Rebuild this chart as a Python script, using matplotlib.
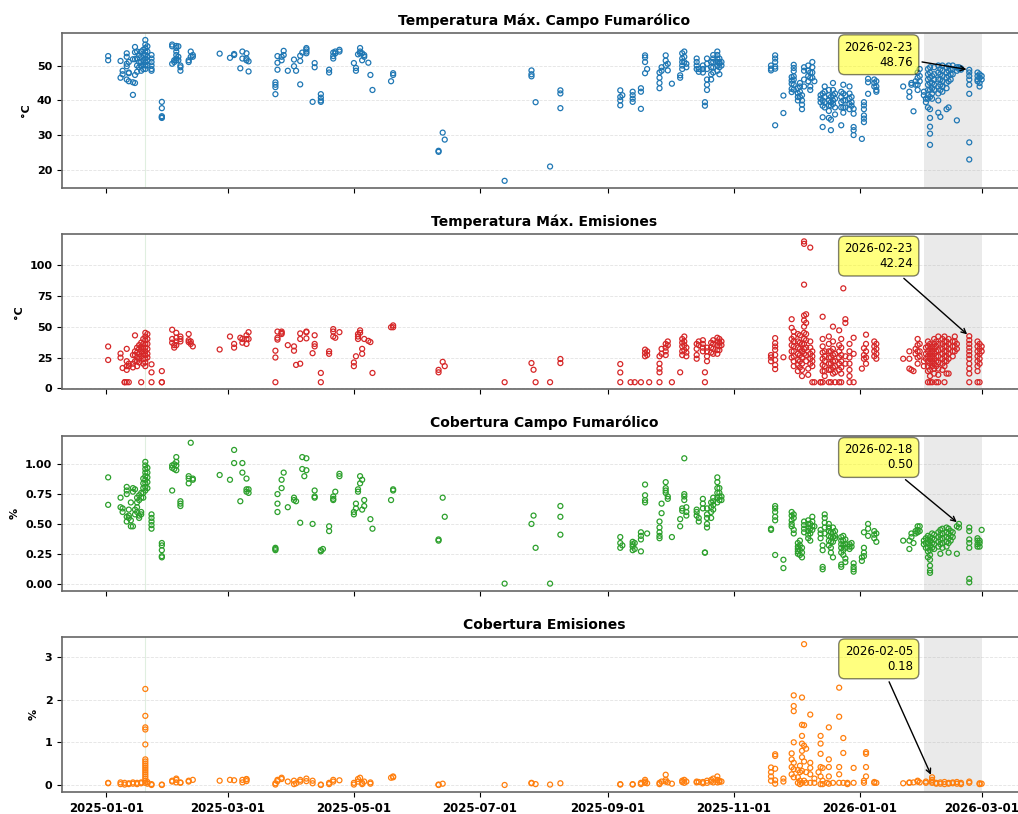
"""
Recreación del panel de series de campo fumarólico / emisiones
"""

import matplotlib
matplotlib.use("Agg")
import matplotlib.pyplot as plt
import matplotlib.dates as mdates
import pandas as pd

# ---------------- datos ----------------
# Temperatura Máx. Campo Fumarólico (°C)
tc_dates = ["2025-01-02", "2025-01-08", "2025-01-09", "2025-01-11", "2025-01-12", "2025-01-14",
            "2025-01-15", "2025-01-16", "2025-01-17", "2025-01-18", "2025-01-19", "2025-01-20",
            "2025-01-21", "2025-01-23", "2025-01-28", "2025-02-02", "2025-02-03", "2025-02-04",
            "2025-02-05", "2025-02-06", "2025-02-10", "2025-02-11", "2025-02-12", "2025-02-25",
            "2025-03-02", "2025-03-04", "2025-03-07", "2025-03-08", "2025-03-10", "2025-03-11",
            "2025-03-24", "2025-03-25", "2025-03-27", "2025-03-28", "2025-03-30", "2025-04-02",
            "2025-04-03", "2025-04-05", "2025-04-06", "2025-04-08", "2025-04-11", "2025-04-12",
            "2025-04-15", "2025-04-19", "2025-04-21", "2025-04-22", "2025-04-24", "2025-05-01",
            "2025-05-02", "2025-05-03", "2025-05-04", "2025-05-05", "2025-05-06", "2025-05-08",
            "2025-05-09", "2025-05-10", "2025-05-19", "2025-05-20", "2025-06-11", "2025-06-13",
            "2025-06-14", "2025-07-13", "2025-07-26", "2025-07-28", "2025-08-04", "2025-08-09",
            "2025-09-07", "2025-09-08", "2025-09-13", "2025-09-17", "2025-09-19", "2025-09-20",
            "2025-09-26", "2025-09-27", "2025-09-29", "2025-09-30", "2025-10-02", "2025-10-06",
            "2025-10-07", "2025-10-08", "2025-10-09", "2025-10-14", "2025-10-15", "2025-10-17",
            "2025-10-18", "2025-10-19", "2025-10-21", "2025-10-22", "2025-10-24", "2025-10-25",
            "2025-10-26", "2025-11-19", "2025-11-21", "2025-11-25", "2025-11-29", "2025-11-30",
            "2025-12-02", "2025-12-03", "2025-12-04", "2025-12-05", "2025-12-07", "2025-12-08",
            "2025-12-09", "2025-12-10", "2025-12-13", "2025-12-14", "2025-12-15", "2025-12-17",
            "2025-12-18", "2025-12-19", "2025-12-20", "2025-12-23", "2025-12-24", "2025-12-25",
            "2025-12-27", "2025-12-28", "2025-12-29", "2026-01-02", "2026-01-03", "2026-01-05",
            "2026-01-08", "2026-01-09", "2026-01-22", "2026-01-25", "2026-01-26", "2026-01-27",
            "2026-01-28", "2026-01-29", "2026-01-30", "2026-02-01", "2026-02-02", "2026-02-03",
            "2026-02-04", "2026-02-05", "2026-02-06", "2026-02-08", "2026-02-09", "2026-02-10",
            "2026-02-12", "2026-02-13", "2026-02-14", "2026-02-15", "2026-02-17", "2026-02-18",
            "2026-02-19", "2026-02-23", "2026-02-27", "2026-02-28", "2026-03-01"]
tc_vals = [[52.7, 51.5], [51.3, 46.5], [48.5, 47.5], [53.5, 52.5, 50.5, 49.8, 46.0],
           [51.0, 48.0, 47.8, 45.5], [51.8, 45.2, 41.6], [55.3, 53.8, 51.8, 47.3, 45.0],
           [54.0, 52.0, 50.0, 48.2], [53.0, 51.0, 49.5], [54.0, 52.5, 51.0, 50.0, 48.5],
           [54.5, 53.0, 51.5, 50.2, 49.0], [57.3, 56.0, 55.0, 54.0, 53.0, 52.0, 51.0, 50.0, 49.0],
           [55.5, 54.0, 52.5, 51.5, 50.0], [53.0, 52.0, 51.0, 50.0, 49.0, 48.5],
           [39.6, 37.8, 35.5, 35.2, 35.0], [56.0, 55.5, 50.5], [51.5, 51.0],
           [55.6, 55.0, 54.0, 53.0, 52.0, 51.5], [55.5, 52.5, 51.5], [50.0, 49.5, 48.5],
           [51.5, 51.0], [54.0, 52.5], [53.0, 52.5], [53.4],
           [52.2], [53.3, 53.0], [49.2], [54.0, 52.0], [53.5, 52.0, 51.5], [51.2, 48.3],
           [45.2, 44.5, 43.8, 41.8], [52.7, 50.8, 48.8], [52.5, 51.5], [54.2, 53.0], [48.5],
           [51.7, 49.8], [48.5], [52.8, 51.3, 44.6], [53.7], [55.0, 54.6, 54.0, 53.5], [39.6],
           [50.7, 49.5], [41.8, 40.8, 40.0, 39.6], [48.8, 48.0], [53.7, 52.7, 52.0], [54.0, 53.5],
           [54.5, 54.0], [50.7], [49.3, 48.5], [53.2], [55.0, 54.0, 53.5], [53.5, 51.5],
           [53.0, 52.5], [50.8], [47.3], [43.0], [45.5], [47.8, 47.3], [25.6, 25.3], [30.8],
           [28.8], [17.0], [48.6, 47.5, 46.9], [39.5], [21.1], [42.9, 42.0, 37.8],
           [42.9, 41.0, 40.0, 38.6], [41.5], [42.5, 41.5, 40.5, 39.6], [43.5, 42.5, 37.6],
           [52.9, 52.3, 51.0, 47.8], [49.0], [48.0, 46.5, 45.0, 43.5], [49.5, 48.5],
           [52.9, 51.4, 50.0], [50.5, 48.6], [44.8], [47.2, 46.5],
           [53.5, 52.0, 51.0, 50.0, 49.0], [54.0, 52.5, 51.0], [50.5, 49.5],
           [52.0, 51.0, 50.0, 49.0], [49.0, 48.2], [50.0, 49.0, 48.0], [39.5, 38.5],
           [52.0, 50.5, 49.0, 46.0, 44.5, 43.0], [51.0, 49.5, 47.5, 46.0],
           [53.0, 52.0, 51.0, 49.5, 48.0], [54.0, 53.0, 52.0, 51.0, 50.0, 48.5],
           [52.0, 51.0, 50.5, 49.5, 47.5], [51.0, 50.0], [50.0, 49.1, 48.6],
           [52.9, 52.0, 51.0, 49.7, 49.1, 32.9], [41.4, 36.4], [46.7, 45.7, 44.8, 43.3, 42.4],
           [50.2, 49.3, 48.4, 46.9, 46.0, 44.5, 43.1], [43.5, 42.0, 41.0, 40.0],
           [45.0, 44.0, 42.5, 41.0], [41.5, 40.0, 38.8, 37.5], [49.5, 48.5, 46.0, 44.0],
           [50.0, 48.5, 47.0, 45.5], [48.0, 46.5, 44.0, 43.0], [51.0, 49.5, 48.0, 46.5],
           [45.5], [41.5, 40.5, 39.5], [42.0, 40.0, 38.5, 35.2, 32.4],
           [44.0, 42.5, 41.0, 39.5, 38.0], [43.0, 41.5, 40.0, 38.5, 37.0, 35.0],
           [41.0, 39.5, 38.5, 34.5, 31.5], [45.0, 43.0, 41.5, 40.0, 39.0],
           [42.0, 40.5, 38.0, 36.0], [42.5, 41.0, 39.5, 38.0, 32.9],
           [44.5, 42.0, 40.0, 38.0, 36.5], [41.5, 40.0, 38.0], [44.0, 42.0, 40.5, 39.0, 37.5],
           [41.0, 39.5, 38.5], [37.6, 36.2, 32.4, 31.5, 30.1], [29.0],
           [39.5, 38.6, 37.5, 35.7, 34.8, 33.8], [46.2, 45.2, 41.9], [46.0, 45.0, 44.0],
           [45.5, 44.0, 43.0, 42.5], [44.0], [42.5, 41.0], [45.0, 44.5], [36.9], [45.5, 44.5],
           [48.0, 46.5, 44.5, 43.0], [49.0, 47.0, 45.5], [42.5, 41.5], [40.5, 39.5],
           [49.0, 47.5, 46.0, 44.5, 43.0, 41.5, 40.5, 38.0],
           [49.5, 48.0, 46.5, 45.0, 43.0, 41.0, 37.5, 35.0, 32.5, 30.5, 27.3],
           [47.0, 45.0, 43.5, 42.0, 40.5], [49.5, 47.5, 46.0, 44.5, 43.0],
           [50.0, 48.0, 46.0, 44.0, 42.0, 40.0, 36.5], [49.0, 47.5, 46.0, 44.5, 43.0, 35.3],
           [50.0, 48.5, 47.0, 45.5, 44.0, 42.5], [49.5, 48.0, 46.5, 45.0, 43.5, 37.5],
           [50.0, 48.5, 47.0, 45.5, 38.0], [49.0, 47.5, 46.0], [50.0, 49.0, 47.5],
           [49.5, 48.5, 34.3], [49.5, 49.0], [49.2, 48.8],
           [48.76, 48.0, 47.0, 46.0, 44.5, 41.9, 28.0, 23.1], [48.0, 47.0, 46.0, 45.5],
           [47.5, 46.5, 45.0, 44.0], [47.0, 46.0]]

# Temperatura Máx. Emisiones (°C)
te_dates = ["2025-01-02", "2025-01-08", "2025-01-09", "2025-01-10", "2025-01-11", "2025-01-12",
            "2025-01-14", "2025-01-15", "2025-01-16", "2025-01-17", "2025-01-18", "2025-01-19",
            "2025-01-20", "2025-01-21", "2025-01-23", "2025-01-28", "2025-02-02", "2025-02-03",
            "2025-02-04", "2025-02-06", "2025-02-10", "2025-02-11", "2025-02-12", "2025-02-25",
            "2025-03-02", "2025-03-04", "2025-03-07", "2025-03-08", "2025-03-10", "2025-03-11",
            "2025-03-24", "2025-03-25", "2025-03-27", "2025-03-30", "2025-04-02", "2025-04-03",
            "2025-04-05", "2025-04-08", "2025-04-11", "2025-04-12", "2025-04-15", "2025-04-19",
            "2025-04-21", "2025-04-22", "2025-04-24", "2025-05-01", "2025-05-02", "2025-05-03",
            "2025-05-04", "2025-05-05", "2025-05-06", "2025-05-08", "2025-05-09", "2025-05-10",
            "2025-05-19", "2025-05-20", "2025-06-11", "2025-06-13", "2025-06-14", "2025-07-13",
            "2025-07-26", "2025-07-27", "2025-07-28", "2025-08-04", "2025-08-09", "2025-09-07",
            "2025-09-12", "2025-09-14", "2025-09-17", "2025-09-19", "2025-09-20", "2025-09-21",
            "2025-09-26", "2025-09-27", "2025-09-29", "2025-09-30", "2025-10-02", "2025-10-06",
            "2025-10-07", "2025-10-08", "2025-10-09", "2025-10-14", "2025-10-15", "2025-10-17",
            "2025-10-18", "2025-10-19", "2025-10-21", "2025-10-22", "2025-10-24", "2025-10-25",
            "2025-10-26", "2025-11-19", "2025-11-21", "2025-11-25", "2025-11-29", "2025-11-30",
            "2025-12-02", "2025-12-03", "2025-12-04", "2025-12-05", "2025-12-06", "2025-12-07",
            "2025-12-08", "2025-12-09", "2025-12-10", "2025-12-13", "2025-12-14", "2025-12-15",
            "2025-12-17", "2025-12-18", "2025-12-19", "2025-12-20", "2025-12-22", "2025-12-23",
            "2025-12-24", "2025-12-25", "2025-12-27", "2025-12-29", "2026-01-02", "2026-01-03",
            "2026-01-04", "2026-01-08", "2026-01-09", "2026-01-22", "2026-01-25", "2026-01-26",
            "2026-01-27", "2026-01-28", "2026-01-29", "2026-01-30", "2026-02-01", "2026-02-02",
            "2026-02-03", "2026-02-04", "2026-02-05", "2026-02-06", "2026-02-07", "2026-02-08",
            "2026-02-10", "2026-02-11", "2026-02-12", "2026-02-13", "2026-02-15", "2026-02-16",
            "2026-02-17", "2026-02-23", "2026-02-27", "2026-02-28", "2026-03-01"]
te_vals = [[33.9, 23.0], [28.2, 24.9], [16.5], [5, 5], [32.0, 22.0, 18.0, 15.0, 5],
           [20.0, 18.0, 5], [27.0, 20.0, 17.0], [42.9, 30.0, 27.0, 22.0],
           [33.0, 29.0, 25.0, 22.0, 18.0], [35.0, 32.0, 28.0, 24.0, 21.0],
           [37.0, 33.0, 30.0, 26.0, 5], [40.0, 36.0, 32.0, 28.0, 24.0, 20.0],
           [45.0, 42.0, 39.0, 36.0, 33.0, 30.0, 27.0, 24.0, 21.0, 18.0],
           [44.0, 40.0, 36.0, 32.0, 28.0, 25.0], [19.5, 13.0, 5], [14.0, 5, 5],
           [47.5, 40.0, 37.0], [35.0, 33.0], [45.0, 41.0, 38.0, 35.0], [42.0, 40.0, 38.0],
           [44.0, 39.0, 37.5], [38.0, 36.0], [34.0], [31.5], [42.0], [36.0, 33.0], [41.0],
           [40.0, 37.0], [43.0, 40.0, 36.0], [45.5, 40.0], [30.5, 25.0, 5], [46.0, 41.0, 39.5],
           [46.0, 45.0, 44.0], [35.0], [34.0, 30.5], [19.0], [44.5, 40.0, 20.0],
           [46.0, 45.5, 40.5], [28.5], [43.0, 36.0, 34.0], [12.5, 5], [30.0, 28.0],
           [48.0, 46.0, 42.0], [41.0], [45.5], [21.0, 18.0], [26.0], [44.0, 42.0, 40.0],
           [47.0, 45.0], [32.0, 28.0], [40.0], [38.5], [37.5], [12.5], [49.5], [51.0, 49.5],
           [15.0, 13.0], [21.5], [18.0], [5], [20.5], [15.1], [5], [5], [23.8, 20.5],
           [19.7, 12.9, 5], [5], [5], [5], [31.4, 28.7, 26.0], [30.0, 27.0], [5],
           [26.0, 20.0, 16.0, 13.0, 5], [32.0, 28.0], [36.0, 33.0, 30.0, 27.0], [38.0, 35.0],
           [5], [13.0], [40.0, 37.0, 34.0, 30.0, 27.0], [42.0, 38.0, 35.0, 31.0],
           [33.0, 29.0, 26.0], [36.0, 32.0, 27.0, 24.0], [38.0, 35.0], [39.0, 36.0, 33.0, 30.0],
           [13.0, 5], [33.0, 30.0, 26.0, 22.0], [37.0, 33.0, 29.0], [39.0, 36.0, 32.0, 28.0],
           [41.0, 38.0, 35.0, 31.0, 28.0], [40.0, 37.0, 34.0, 31.0], [38.0, 35.0],
           [27.0, 25.0, 22.0], [40.7, 36.6, 33.9, 31.2, 27.1, 23.0, 18.9, 15.6], [25.2],
           [56.0, 49.0, 40.0, 35.0, 30.0, 25.0], [46.0, 42.0, 38.0, 34.0, 30.0, 26.0, 22.0, 18.0],
           [44.0, 38.0, 33.0, 28.0, 23.0, 19.0, 14.0], [43.0, 37.0, 32.0, 27.0, 22.0, 17.0],
           [36.0, 30.0, 25.0, 20.0, 15.0, 10.0],
           [119.0, 117.0, 84.0, 59.0, 55.0, 50.0, 45.0, 40.0, 36.0, 32.0, 28.0],
           [60.0, 53.0, 44.0, 39.0, 33.0, 27.0, 22.0], [16.0, 11.0],
           [114.0, 38.0, 33.0, 28.0, 24.0, 20.0], [30.0, 26.0, 22.0, 18.0, 5], [5], [5, 5],
           [58.0, 40.0, 34.0, 29.0, 24.0, 19.0, 14.0, 5], [30.0, 26.0, 22.0, 18.0, 14.0, 10.0],
           [42.0, 36.0, 30.0, 25.0, 20.0, 15.0, 5], [30.0, 25.0, 20.0, 15.0, 5],
           [50.0, 38.0, 32.0, 27.0, 22.0, 17.0, 12.0], [28.0, 22.0, 18.0, 13.0, 5],
           [47.0, 35.0, 30.0, 25.0, 20.0, 15.0, 5], [40.0, 33.0, 27.0, 22.0, 17.0, 12.0, 5],
           [81.0], [56.0, 53.0, 26.0, 20.0], [36.0, 30.0, 25.0, 20.0, 15.0, 10.0, 5],
           [41.0, 28.0, 5], [16.0], [32.5, 27.0, 24.0], [43.5, 36.0, 30.0, 25.0, 20.0],
           [38.0, 34.0, 30.0, 26.0], [36.0, 32.0, 28.0, 24.0], [24.0], [30.0, 24.0, 16.0],
           [15.0], [14.0], [32.0, 28.0], [40.0, 35.0, 30.0, 25.0, 20.0], [36.0, 30.0, 26.0],
           [22.0, 18.0], [33.0, 28.0, 24.0], [38.0, 34.0, 30.0, 26.0, 22.0, 18.0, 14.0, 5],
           [36.0, 32.0, 28.0, 24.0, 20.0, 15.0, 10.0, 5], [34.0, 30.0, 26.0, 22.0, 18.0, 5],
           [40.0, 36.0, 32.0, 28.0, 24.0, 20.0, 16.0, 12.0], [38.0, 34.0, 30.0, 26.0, 22.0, 18.0, 5],
           [42.0, 36.0, 31.0, 26.0, 21.0, 16.0, 11.0, 5], [40.0, 36.0, 32.0, 28.0, 24.0, 20.0, 15.0],
           [42.0, 38.0, 34.0, 30.0, 26.0, 22.0, 18.0, 5], [38.0, 34.0, 30.0, 26.0, 22.0, 12.0],
           [40.0, 36.0, 32.0, 28.0, 24.0, 12.0], [38.0, 34.0, 30.0, 26.0], [42.0, 38.0, 34.0, 30.0],
           [36.0, 32.0], [42.24, 39.0, 36.0, 33.0, 30.0, 27.0, 24.0, 20.0, 16.0, 12.0, 5],
           [38.0, 34.0, 30.0, 26.0, 22.0, 18.0, 14.0, 5], [36.0, 32.0, 28.0, 24.0, 20.0, 5],
           [34.0, 30.0]]

# Cobertura Campo Fumarólico (%)
cc_dates = ["2025-01-02", "2025-01-08", "2025-01-09", "2025-01-11", "2025-01-12", "2025-01-13",
            "2025-01-14", "2025-01-15", "2025-01-16", "2025-01-17", "2025-01-18", "2025-01-19",
            "2025-01-20", "2025-01-21", "2025-01-23", "2025-01-28", "2025-02-02", "2025-02-03",
            "2025-02-04", "2025-02-06", "2025-02-10", "2025-02-11", "2025-02-12", "2025-02-25",
            "2025-03-02", "2025-03-04", "2025-03-07", "2025-03-08", "2025-03-10", "2025-03-11",
            "2025-03-24", "2025-03-25", "2025-03-27", "2025-03-28", "2025-03-30", "2025-04-02",
            "2025-04-03", "2025-04-05", "2025-04-06", "2025-04-07", "2025-04-08", "2025-04-11",
            "2025-04-12", "2025-04-15", "2025-04-16", "2025-04-19", "2025-04-21", "2025-04-22",
            "2025-04-24", "2025-05-01", "2025-05-02", "2025-05-03", "2025-05-04", "2025-05-05",
            "2025-05-06", "2025-05-09", "2025-05-10", "2025-05-19", "2025-05-20", "2025-06-11",
            "2025-06-13", "2025-06-14", "2025-07-13", "2025-07-26", "2025-07-27", "2025-07-28",
            "2025-08-04", "2025-08-09", "2025-09-07", "2025-09-08", "2025-09-13", "2025-09-14",
            "2025-09-17", "2025-09-19", "2025-09-20", "2025-09-26", "2025-09-27", "2025-09-29",
            "2025-09-30", "2025-10-02", "2025-10-06", "2025-10-07", "2025-10-08", "2025-10-09",
            "2025-10-14", "2025-10-15", "2025-10-17", "2025-10-18", "2025-10-19", "2025-10-21",
            "2025-10-22", "2025-10-24", "2025-10-25", "2025-10-26", "2025-11-19", "2025-11-21",
            "2025-11-25", "2025-11-29", "2025-11-30", "2025-12-02", "2025-12-03", "2025-12-04",
            "2025-12-05", "2025-12-07", "2025-12-08", "2025-12-09", "2025-12-10", "2025-12-13",
            "2025-12-14", "2025-12-15", "2025-12-17", "2025-12-18", "2025-12-19", "2025-12-20",
            "2025-12-23", "2025-12-24", "2025-12-25", "2025-12-27", "2025-12-28", "2025-12-29",
            "2026-01-02", "2026-01-03", "2026-01-05", "2026-01-08", "2026-01-09", "2026-01-22",
            "2026-01-25", "2026-01-26", "2026-01-27", "2026-01-28", "2026-01-29", "2026-01-30",
            "2026-02-01", "2026-02-02", "2026-02-03", "2026-02-04", "2026-02-05", "2026-02-06",
            "2026-02-08", "2026-02-09", "2026-02-10", "2026-02-12", "2026-02-13", "2026-02-14",
            "2026-02-15", "2026-02-17", "2026-02-18", "2026-02-23", "2026-02-27", "2026-02-28",
            "2026-03-01"]
cc_vals = [[0.89, 0.66], [0.72, 0.64], [0.63, 0.60], [0.81, 0.78, 0.75, 0.56, 0.52],
           [0.62, 0.57, 0.55], [0.68, 0.53, 0.48], [0.80, 0.77, 0.48], [0.79, 0.62, 0.58],
           [0.72, 0.68, 0.64, 0.60], [0.74, 0.70, 0.57, 0.55], [0.76, 0.72, 0.60, 0.58],
           [0.88, 0.84, 0.80, 0.76, 0.72],
           [1.02, 0.99, 0.96, 0.93, 0.90, 0.87, 0.84, 0.81, 0.78],
           [0.97, 0.93, 0.89, 0.85, 0.80], [0.58, 0.55, 0.52, 0.49, 0.46],
           [0.34, 0.32, 0.28, 0.23, 0.22], [0.99, 0.97, 0.78], [1.00, 0.96],
           [1.06, 1.02, 0.99, 0.95], [0.69, 0.67, 0.65], [0.90, 0.88, 0.84], [1.18],
           [0.88, 0.87], [0.91], [0.87], [1.12, 1.01], [0.69], [1.01, 0.93], [0.88, 0.79, 0.77],
           [0.79, 0.76], [0.30, 0.29, 0.28], [0.75, 0.67, 0.60], [0.87, 0.80], [0.93], [0.64],
           [0.72, 0.70], [0.69], [0.51], [1.06, 0.96], [0.90], [1.05, 0.95], [0.50],
           [0.78, 0.73, 0.72], [0.28, 0.27], [0.29], [0.48, 0.44], [0.73, 0.71, 0.70], [0.77],
           [0.92, 0.90], [0.60, 0.58], [0.67, 0.63], [0.79, 0.77], [0.90, 0.84], [0.87, 0.62],
           [0.70, 0.65], [0.54], [0.46], [0.70], [0.79, 0.78], [0.37, 0.36], [0.72], [0.56],
           [0.00], [0.50], [0.57], [0.30], [0.00], [0.65, 0.56, 0.41], [0.39, 0.34, 0.30],
           [0.32], [0.35, 0.33, 0.31, 0.28], [0.34, 0.29], [0.43, 0.40, 0.37, 0.27],
           [0.83, 0.74, 0.70, 0.68], [0.42], [0.52, 0.47, 0.43, 0.40, 0.38], [0.67, 0.59],
           [0.85, 0.80, 0.78, 0.76], [0.73, 0.71], [0.39], [0.54, 0.48], [0.63, 0.61],
           [1.05, 0.75, 0.73, 0.70], [0.64, 0.60, 0.57], [0.62, 0.60, 0.57], [0.55, 0.52],
           [0.71, 0.67, 0.63], [0.26, 0.26], [0.63, 0.58, 0.55, 0.50, 0.47],
           [0.68, 0.64, 0.60, 0.55], [0.72, 0.69, 0.66, 0.62],
           [0.89, 0.85, 0.80, 0.76, 0.72, 0.68], [0.80, 0.76, 0.73, 0.70], [0.73, 0.70],
           [0.46, 0.45], [0.65, 0.63, 0.60, 0.56, 0.53, 0.24], [0.20, 0.13],
           [0.60, 0.57, 0.53, 0.50, 0.48], [0.58, 0.55, 0.45, 0.42],
           [0.34, 0.31, 0.29, 0.27, 0.25], [0.36, 0.32, 0.28, 0.24], [0.30, 0.26, 0.22],
           [0.52, 0.49, 0.46, 0.43], [0.53, 0.50, 0.47, 0.44, 0.41, 0.38],
           [0.50, 0.46, 0.42, 0.36], [0.56, 0.52, 0.48, 0.45], [0.48], [0.45, 0.42, 0.38],
           [0.32, 0.28, 0.14, 0.12], [0.58, 0.55, 0.51, 0.47, 0.42],
           [0.50, 0.47, 0.44, 0.40, 0.36, 0.32], [0.43, 0.39, 0.35, 0.30, 0.26],
           [0.47, 0.43, 0.39, 0.35, 0.22], [0.44, 0.40, 0.38],
           [0.39, 0.36, 0.33, 0.30, 0.26, 0.16, 0.14], [0.40, 0.36, 0.32, 0.28, 0.24],
           [0.37, 0.33, 0.30, 0.21, 0.18], [0.33, 0.31, 0.29], [0.34, 0.31],
           [0.17, 0.14, 0.12, 0.10], [0.22, 0.19], [0.43, 0.30, 0.26, 0.23], [0.50, 0.46, 0.40],
           [0.44, 0.41, 0.38], [0.42, 0.35], [0.36], [0.36, 0.29], [0.42, 0.39], [0.34],
           [0.44, 0.42], [0.48, 0.45, 0.43], [0.48, 0.44], [0.36, 0.33], [0.38, 0.34, 0.30],
           [0.40, 0.37, 0.34, 0.30, 0.27, 0.22],
           [0.39, 0.36, 0.32, 0.28, 0.24, 0.20, 0.15, 0.11, 0.09], [0.42, 0.38, 0.34, 0.30],
           [0.41, 0.37, 0.33, 0.29], [0.43, 0.39, 0.35, 0.31], [0.45, 0.41, 0.37, 0.33, 0.25],
           [0.46, 0.42, 0.38, 0.34, 0.30], [0.47, 0.43, 0.39, 0.35, 0.31],
           [0.46, 0.42, 0.38, 0.34, 0.26], [0.44, 0.40, 0.36], [0.43, 0.39], [0.48, 0.25],
           [0.50, 0.47], [0.47, 0.44, 0.37, 0.34, 0.30, 0.04, 0.01], [0.38, 0.36, 0.33, 0.31],
           [0.36, 0.34, 0.31], [0.45]]

# Cobertura Emisiones (%)
ce_dates = ["2025-01-02", "2025-01-08", "2025-01-10", "2025-01-12", "2025-01-14", "2025-01-16",
            "2025-01-18", "2025-01-20", "2025-01-21", "2025-01-23", "2025-01-28", "2025-02-02",
            "2025-02-04", "2025-02-06", "2025-02-10", "2025-02-12", "2025-02-25", "2025-03-02",
            "2025-03-04", "2025-03-08", "2025-03-10", "2025-03-24", "2025-03-25", "2025-03-27",
            "2025-03-30", "2025-04-02", "2025-04-03", "2025-04-05", "2025-04-08", "2025-04-11",
            "2025-04-15", "2025-04-19", "2025-04-21", "2025-04-24", "2025-05-01", "2025-05-03",
            "2025-05-04", "2025-05-05", "2025-05-06", "2025-05-09", "2025-05-19", "2025-05-20",
            "2025-06-11", "2025-06-13", "2025-07-13", "2025-07-26", "2025-07-28", "2025-08-04",
            "2025-08-09", "2025-09-07", "2025-09-13", "2025-09-17", "2025-09-19", "2025-09-20",
            "2025-09-26", "2025-09-27", "2025-09-29", "2025-09-30", "2025-10-02", "2025-10-07",
            "2025-10-08", "2025-10-09", "2025-10-14", "2025-10-15", "2025-10-17", "2025-10-19",
            "2025-10-21", "2025-10-22", "2025-10-24", "2025-10-25", "2025-10-26", "2025-11-19",
            "2025-11-21", "2025-11-25", "2025-11-29", "2025-11-30", "2025-12-02", "2025-12-03",
            "2025-12-04", "2025-12-05", "2025-12-06", "2025-12-08", "2025-12-10", "2025-12-12",
            "2025-12-13", "2025-12-14", "2025-12-16", "2025-12-17", "2025-12-19", "2025-12-22",
            "2025-12-24", "2025-12-26", "2025-12-29", "2026-01-03", "2026-01-04", "2026-01-08",
            "2026-01-09", "2026-01-22", "2026-01-25", "2026-01-27", "2026-01-29", "2026-01-30",
            "2026-02-02", "2026-02-05", "2026-02-07", "2026-02-09", "2026-02-11", "2026-02-13",
            "2026-02-15", "2026-02-17", "2026-02-19", "2026-02-23", "2026-02-28", "2026-03-01"]
ce_vals = [[0.05, 0.04], [0.06, 0.02], [0.05, 0.01], [0.04, 0.02], [0.06, 0.03],
           [0.05, 0.02], [0.06, 0.04],
           [2.25, 1.62, 1.35, 1.30, 0.95, 0.60, 0.55, 0.50, 0.45, 0.40, 0.35, 0.30, 0.25,
            0.20, 0.15, 0.10, 0.05],
           [0.07, 0.03], [0.02, 0.00], [0.00, 0.01], [0.10, 0.08], [0.15, 0.12, 0.06],
           [0.06, 0.05], [0.10, 0.08], [0.12], [0.10], [0.12], [0.11], [0.06, 0.12],
           [0.09, 0.14, 0.13], [0.01, 0.04], [0.09, 0.12], [0.17, 0.14], [0.08], [0.10, 0.02],
           [0.04], [0.08, 0.12], [0.15, 0.09], [0.04, 0.10], [0.00, 0.01], [0.05, 0.02],
           [0.12, 0.08], [0.11], [0.01, 0.05], [0.14, 0.08], [0.17], [0.05, 0.02], [0.08],
           [0.06, 0.03], [0.17], [0.20, 0.18], [0.00, 0.01], [0.03], [0.00], [0.05, 0.04],
           [0.02], [0.01], [0.04], [0.01, 0.02], [0.02, 0.01], [0.02, 0.05],
           [0.12, 0.08, 0.05], [0.04], [0.05, 0.02], [0.08], [0.24, 0.12, 0.08], [0.06],
           [0.03], [0.10, 0.07], [0.12, 0.05], [0.08], [0.08, 0.06], [0.07], [0.07, 0.04],
           [0.10, 0.05], [0.12, 0.08], [0.15, 0.06], [0.20, 0.12, 0.06], [0.10, 0.07], [0.08],
           [0.41, 0.30, 0.20, 0.10], [0.72, 0.68, 0.38, 0.11, 0.03], [0.15, 0.08],
           [0.74, 0.60, 0.42, 0.25], [2.10, 1.85, 1.73, 1.00, 0.52, 0.37, 0.18],
           [0.35, 0.18, 0.05], [0.45, 0.30, 0.10, 0.02],
           [2.05, 1.41, 1.15, 0.97, 0.80, 0.65, 0.33, 0.05], [3.30, 1.40, 0.92, 0.55, 0.10],
           [0.85, 0.30, 0.05], [1.65, 0.52, 0.40, 0.25, 0.05], [0.15, 0.05], [0.30],
           [1.15, 0.97, 0.73, 0.42, 0.20, 0.02], [0.40, 0.10, 0.02], [0.05],
           [1.35, 0.60, 0.42, 0.20, 0.03], [0.05], [2.28, 1.60, 0.42, 0.25, 0.05],
           [1.10, 0.75, 0.05], [0.05, 0.02], [0.40, 0.05], [0.10, 0.05],
           [0.77, 0.73, 0.42, 0.20], [0.07, 0.05], [0.05], [0.04], [0.06, 0.05], [0.06],
           [0.10, 0.08], [0.06], [0.08, 0.05], [0.18, 0.12, 0.08, 0.05], [0.05, 0.03],
           [0.06, 0.03], [0.07, 0.02], [0.05, 0.03], [0.06, 0.04], [0.07, 0.03], [0.05, 0.02],
           [0.08, 0.05], [0.04, 0.02], [0.03]]

titles = ["Temperatura Máx. Campo Fumarólico", "Temperatura Máx. Emisiones",
          "Cobertura Campo Fumarólico", "Cobertura Emisiones"]
units = ["°C", "°C", "%", "%"]
colors = ["#1f77b4", "#d62728", "#2ca02c", "#ff7f0e"]

# fechas/valores anotados (último periodo)
ann_dates = ["2026-02-23", "2026-02-23", "2026-02-18", "2026-02-05"]
ann_vals = [48.76, 42.24, 0.50, 0.18]

span_start, span_end = "2026-02-01", "2026-03-01"
mark_date = "2025-01-20"


def expand(dates, vals):
    """Repite la fecha para cada valor del día"""
    xs, ys = [], []
    for d, v in zip(dates, vals):
        xs += [d] * len(v)
        ys += v
    return pd.to_datetime(xs), ys


series = [expand(tc_dates, tc_vals), expand(te_dates, te_vals),
          expand(cc_dates, cc_vals), expand(ce_dates, ce_vals)]

plt.rcParams['font.family'] = 'DejaVu Sans'
plt.rcParams['font.weight'] = 'bold'

fig, axes = plt.subplots(4, 1, figsize=(10.18, 8.14), dpi=100, sharex=True)
fig.subplots_adjust(left=0.061, right=1.0075, top=0.9595, bottom=0.027, hspace=0.30)

for i, ax in enumerate(axes):
    x, y = series[i]
    ax.axvspan(pd.Timestamp(span_start), pd.Timestamp(span_end), color='gray', alpha=0.16,
               lw=0, zorder=0)
    ax.axvline(pd.Timestamp(mark_date), color='green', alpha=0.12, lw=0.8, zorder=0)
    ax.scatter(x, y, s=13, facecolors='none', edgecolors=colors[i], linewidths=0.9, zorder=2)
    ax.set_title(titles[i], fontsize=10, fontweight='bold')
    ax.set_ylabel(units[i], fontsize=8, fontweight='bold')
    ax.grid(True, axis='y', linestyle='--', alpha=0.35, lw=0.6)
    ax.tick_params(axis='y', labelsize=8)
    ax.tick_params(axis='x', labelsize=8.5)
    for sp in ax.spines.values():
        sp.set_color('#666666')
        sp.set_linewidth(1.2)

    ax.annotate(f"{ann_dates[i]}\n{ann_vals[i]:.2f}",
                xy=(pd.Timestamp(ann_dates[i]), ann_vals[i]),
                xytext=(0.883, 0.95), textcoords='axes fraction',
                ha='right', va='top', fontsize=8.5, fontweight='normal',
                bbox=dict(boxstyle='round,pad=0.5', fc='yellow', alpha=0.5),
                arrowprops=dict(arrowstyle='->', color='black', lw=1), zorder=5)

axes[0].set_yticks([20, 30, 40, 50])
axes[1].set_yticks([0, 25, 50, 75, 100])
axes[2].set_yticks([0.0, 0.25, 0.5, 0.75, 1.0])
axes[2].yaxis.set_major_formatter(plt.FormatStrFormatter('%.2f'))
axes[3].set_yticks([0, 1, 2, 3])

pad = pd.Timedelta(days=21.3)
axes[-1].set_xlim(pd.Timestamp("2025-01-01") - pad, pd.Timestamp("2026-03-01") + pad)
axes[-1].xaxis.set_major_locator(mdates.MonthLocator(bymonth=[1, 3, 5, 7, 9, 11]))
axes[-1].xaxis.set_major_formatter(mdates.DateFormatter('%Y-%m-%d'))

plt.savefig('out.png', dpi=100)
plt.close()
